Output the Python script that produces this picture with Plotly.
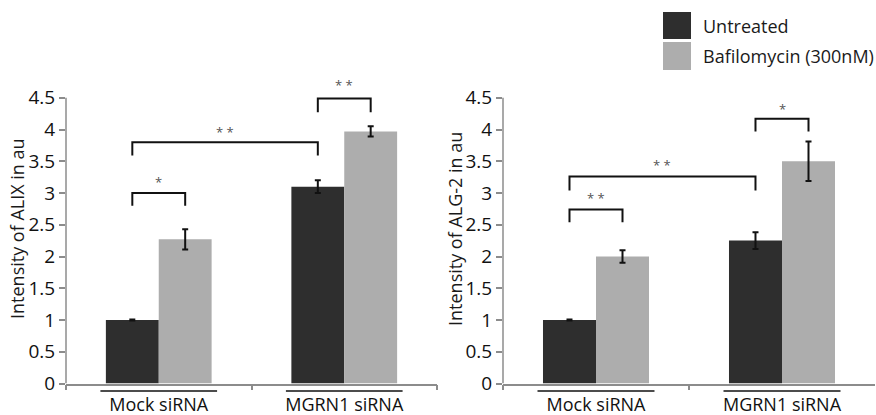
import plotly.graph_objects as go

# ---------------- data ----------------
categories = ["Mock siRNA", "MGRN1 siRNA"]
series_names = ["Untreated", "Bafilomycin (300nM)"]

alix_untreated = [1.0, 3.1]
alix_untreated_err = [0.006, 0.10]
alix_baf = [2.27, 3.97]
alix_baf_err = [0.16, 0.08]

alg2_untreated = [1.0, 2.25]
alg2_untreated_err = [0.006, 0.13]
alg2_baf = [2.0, 3.5]
alg2_baf_err = [0.10, 0.31]

y_tick_vals = [0, 0.5, 1, 1.5, 2, 2.5, 3, 3.5, 4, 4.5]
y_tick_text = ["0", "0.5", "1", "1.5", "2", "2.5", "3", "3.5", "4", "4.5"]

y_titles = ["Intensity of ALIX in au", "Intensity of ALG-2 in au"]

# significance brackets: (cat_a, series_a, cat_b, series_b, y_top, y_leg, label, y_label)
alix_brackets = [
    (0, 0, 0, 1, 3.00, 2.80, "*", 3.23),
    (0, 0, 1, 0, 3.80, 3.59, "* *", 4.02),
    (1, 0, 1, 1, 4.49, 4.27, "* *", 4.77),
]
alg2_brackets = [
    (0, 0, 0, 1, 2.74, 2.54, "* *", 2.98),
    (0, 0, 1, 0, 3.26, 3.04, "* *", 3.50),
    (1, 0, 1, 1, 4.17, 3.97, "*", 4.38),
]

colors = ["#2e2e2e", "#adadad"]
FONT = "Open Sans"
W, H = 876, 415
bargap = 0.43
bar_w = (1 - bargap) / 2

panels = [
    dict(vals=[alix_untreated, alix_baf], errs=[alix_untreated_err, alix_baf_err],
         brackets=alix_brackets, xdom=[66 / W, 437 / W]),
    dict(vals=[alg2_untreated, alg2_baf], errs=[alg2_untreated_err, alg2_baf_err],
         brackets=alg2_brackets, xdom=[503 / W, 875 / W]),
]

y_bottom_px, px_per_unit = 383.5, 63.5
y_max = 4.8
ydom = [1 - y_bottom_px / H, 1 - (y_bottom_px - y_max * px_per_unit) / H]

fig = go.Figure()
shapes, annotations = [], []

def bar_center(cat, s):
    return cat + (s - 0.5) * bar_w

for p, panel in enumerate(panels):
    xa = "x" if p == 0 else "x2"
    ya = "y" if p == 0 else "y2"
    for s in range(2):
        fig.add_trace(go.Bar(
            x=categories, y=panel["vals"][s], name=series_names[s],
            marker=dict(color=colors[s], line=dict(width=0)),
            error_y=dict(type="data", array=panel["errs"][s], color="#111111",
                         thickness=2, width=3),
            xaxis=xa, yaxis=ya, showlegend=False,
        ))
    # y axis line (0 .. 4.5)
    shapes.append(dict(type="line", xref=f"{xa} domain", yref=ya, x0=0, x1=0,
                       y0=0, y1=y_tick_vals[-1], line=dict(color="#8c8c8c", width=1.5)))
    # brackets
    for (ca, sa, cb, sb, yt, yl, lab, ylab) in panel["brackets"]:
        xa0, xb0 = bar_center(ca, sa), bar_center(cb, sb)
        shapes.append(dict(type="path", xref=xa, yref=ya,
                           path=f"M {xa0} {yl} L {xa0} {yt} L {xb0} {yt} L {xb0} {yl}",
                           line=dict(color="#111111", width=2)))
        annotations.append(dict(x=(xa0 + xb0) / 2, y=ylab, xref=xa, yref=ya, text=lab,
                                showarrow=False, yshift=-4, xanchor="center", yanchor="middle",
                                font=dict(family=FONT, size=13, color="#555555")))
    # category underlines
    for c in range(len(categories)):
        half = 0.3145
        shapes.append(dict(type="line", xref=f"{xa} domain", yref="paper",
                           x0=(c + 0.5 - half) / 2, x1=(c + 0.5 + half) / 2,
                           y0=1 - 391 / H, y1=1 - 391 / H,
                           line=dict(color="#111111", width=1.5)))
    # y title
    annotations.append(dict(x=(17 if p == 0 else 455) / W, y=1 - 229 / H, xref="paper",
                            yref="paper", text=y_titles[p], textangle=-90, showarrow=False,
                            xanchor="center", yanchor="middle",
                            font=dict(family=FONT, size=18, color="#1a1a1a")))

# legend (custom)
leg_x0, leg_x1 = 663, 691
for s, (ty0, ty1) in enumerate([(12, 39), (42, 70)]):
    shapes.append(dict(type="rect", xref="paper", yref="paper",
                       x0=leg_x0 / W, x1=leg_x1 / W, y0=1 - ty1 / H, y1=1 - ty0 / H,
                       fillcolor=colors[s], line=dict(width=0)))
    annotations.append(dict(x=701 / W, y=1 - (ty0 + ty1) / 2 / H, xref="paper", yref="paper",
                            text=series_names[s], showarrow=False, xanchor="left",
                            yanchor="middle",
                            font=dict(family=FONT, size=18, color="#1a1a1a")))

axis_common_x = dict(type="category", showline=True, linecolor="#8c8c8c", linewidth=1.5,
                     ticks="outside", tickson="boundaries", ticklen=5, tickcolor="#8c8c8c",
                     tickwidth=1.5, showgrid=False, zeroline=False, ticklabelstandoff=4,
                     automargin=False,
                     tickfont=dict(family=FONT, size=18, color="#111111"), range=[-0.5, 1.5])
axis_common_y = dict(range=[0, y_max], tickvals=y_tick_vals, ticktext=y_tick_text,
                     showline=False, ticks="outside", ticklen=6, tickcolor="#8c8c8c",
                     tickwidth=1.5, showgrid=False, zeroline=False, automargin=False,
                     tickfont=dict(family=FONT, size=19, color="#111111"), domain=ydom)

fig.update_layout(
    width=W, height=H, autosize=False,
    margin=dict(l=0, r=0, t=0, b=0, pad=0, autoexpand=False),
    paper_bgcolor="white", plot_bgcolor="white",
    barmode="group", bargap=bargap, bargroupgap=0,
    xaxis=dict(domain=panels[0]["xdom"], anchor="y", **axis_common_x),
    xaxis2=dict(domain=panels[1]["xdom"], anchor="y2", **axis_common_x),
    yaxis=dict(anchor="x", **axis_common_y),
    yaxis2=dict(anchor="x2", **axis_common_y),
    shapes=shapes, annotations=annotations,
    font=dict(family=FONT), showlegend=False,
)

fig.write_html("out.html")
